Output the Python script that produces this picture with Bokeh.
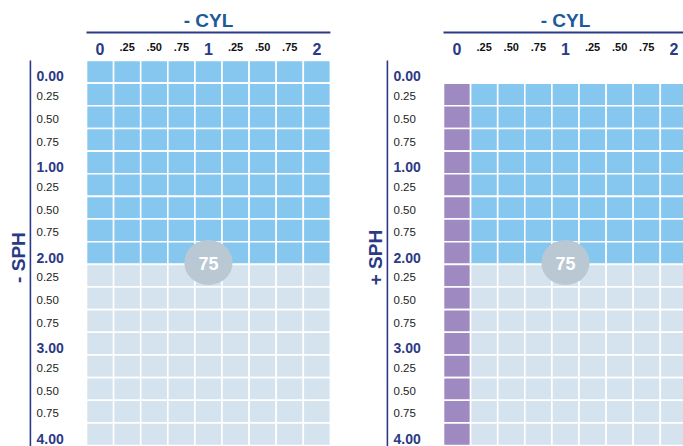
from bokeh.plotting import figure
from bokeh.layouts import row
from bokeh.models import Range1d, ColumnDataSource
from bokeh.core.properties import value
from bokeh.embed import file_html
from bokeh.resources import INLINE

# ---------------- data ----------------
col_labels = ["0", ".25", ".50", ".75", "1", ".25", ".50", ".75", "2"]
col_major = [True, False, False, False, True, False, False, False, True]
row_labels = ["0.00", "0.25", "0.50", "0.75", "1.00", "0.25", "0.50", "0.75",
              "2.00", "0.25", "0.50", "0.75", "3.00", "0.25", "0.50", "0.75", "4.00"]
row_major = [True, False, False, False, True, False, False, False,
             True, False, False, False, True, False, False, False, True]

# cell categories per row (B = in range, L = out of range, P = plus-only column, ' ' = none)
left_grid = [
    "BBBBBBBBB", "BBBBBBBBB", "BBBBBBBBB", "BBBBBBBBB", "BBBBBBBBB",
    "BBBBBBBBB", "BBBBBBBBB", "BBBBBBBBB", "BBBBBBBBB",
    "LLLLLLLLL", "LLLLLLLLL", "LLLLLLLLL", "LLLLLLLLL",
    "LLLLLLLLL", "LLLLLLLLL", "LLLLLLLLL", "LLLLLLLLL",
]
right_grid = [
    "         ",
    "PBBBBBBBB", "PBBBBBBBB", "PBBBBBBBB", "PBBBBBBBB",
    "PBBBBBBBB", "PBBBBBBBB", "PBBBBBBBB", "PBBBBBBBB",
    "PLLLLLLLL", "PLLLLLLLL", "PLLLLLLLL", "PLLLLLLLL",
    "PLLLLLLLL", "PLLLLLLLL", "PLLLLLLLL", "PLLLLLLLL",
]
panel_titles = ["- CYL", "- CYL"]
axis_titles = ["- SPH", "+ SPH"]
badge_text = "75"
badge_col = 4
badge_row = 8.42

# ---------------- style ----------------
COLORS = {"B": "#86c7f0", "L": "#d4e3ed", "P": "#9e89c0"}
NAVY = "#2b3a85"
TITLE_BLUE = "#1c5a9a"
FONT = "Liberation Sans"

CELL_W = 27.1
CELL_H = 22.65
H = 446
TOP_PAD = 60.0


def make_panel(grid, title, axis_title, width, left_pad_px):
    # left_pad_px: pixels from figure left edge to centre of column 0
    x0 = -left_pad_px / CELL_W
    x1 = x0 + width / CELL_W
    y_top = -0.5 - TOP_PAD / CELL_H
    y_bot = y_top + H / CELL_H
    p = figure(width=width, height=H, output_backend="svg", toolbar_location=None,
               x_range=Range1d(x0, x1), y_range=Range1d(y_bot, y_top),
               min_border=0, outline_line_color=None)
    p.axis.visible = False
    p.grid.visible = False
    p.background_fill_color = "white"
    p.border_fill_color = "white"

    xs, ys, cs = [], [], []
    for r, line in enumerate(grid):
        for c, k in enumerate(line):
            if k in COLORS:
                xs.append(c)
                ys.append(r)
                cs.append(COLORS[k])
    p.rect(x="x", y="y", width=1, height=1, fill_color="c", line_color="white",
           line_width=1.6, source=ColumnDataSource(dict(x=xs, y=ys, c=cs)))

    ncol = len(col_labels)
    nrow = len(row_labels)

    # title + underline
    p.text(x=[(ncol - 1) / 2], y=[-2.27], text=[title], text_font=value(FONT),
           text_font_style="bold", text_font_size="19px", text_color=TITLE_BLUE,
           text_align="center", text_baseline="middle")
    p.segment(x0=[-0.5], y0=[-1.74], x1=[ncol - 0.5], y1=[-1.74],
              line_color=NAVY, line_width=2)

    # column labels
    big_c = [i for i in range(ncol) if col_major[i]]
    small_c = [i for i in range(ncol) if not col_major[i]]
    p.text(x=big_c, y=[-1.02] * len(big_c), text=[col_labels[i] for i in big_c],
           text_font=value(FONT), text_font_style="bold", text_font_size="16px",
           text_color=NAVY, text_align="center", text_baseline="middle")
    p.text(x=small_c, y=[-1.1] * len(small_c), text=[col_labels[i] for i in small_c],
           text_font=value(FONT), text_font_style="bold", text_font_size="11px",
           text_color="#111111", text_align="center", text_baseline="middle")

    # row labels
    lx = -2.345
    big_r = [i for i in range(nrow) if row_major[i]]
    small_r = [i for i in range(nrow) if not row_major[i]]
    p.text(x=[lx] * len(big_r), y=[i + 0.2 for i in big_r],
           text=[row_labels[i] for i in big_r], text_font=value(FONT),
           text_font_style="bold", text_font_size="14px", text_color=NAVY,
           text_align="left", text_baseline="middle")
    p.text(x=[lx] * len(small_r), y=[i + 0.08 for i in small_r],
           text=[row_labels[i] for i in small_r], text_font=value(FONT),
           text_font_size="11.5px", text_color="#222222",
           text_align="left", text_baseline="middle")

    # vertical rule
    p.segment(x0=[-2.57], y0=[-0.5], x1=[-2.57], y1=[nrow + 1],
              line_color=NAVY, line_width=1.6)

    # axis title (vertical)
    p.text(x=[-3.02], y=[8.2], text=[axis_title], angle=1.5708,
           text_font=value(FONT), text_font_style="bold", text_font_size="19px",
           text_color=NAVY, text_align="center", text_baseline="middle")

    # badge
    p.ellipse(x=[badge_col], y=[badge_row], width=1.78, height=1.99,
              fill_color="#b9c8d3", line_color=None)
    p.text(x=[badge_col], y=[badge_row + 0.05], text=[badge_text],
           text_font=value(FONT), text_font_style="bold", text_font_size="18px",
           text_color="white", text_align="center", text_baseline="middle")
    return p


p1 = make_panel(left_grid, panel_titles[0], axis_titles[0], 343, 99.55)
p2 = make_panel(right_grid, panel_titles[1], axis_titles[1], 340, 113.55)
layout = row(p1, p2, spacing=0)

open("out.html", "w").write(file_html(layout, INLINE))
